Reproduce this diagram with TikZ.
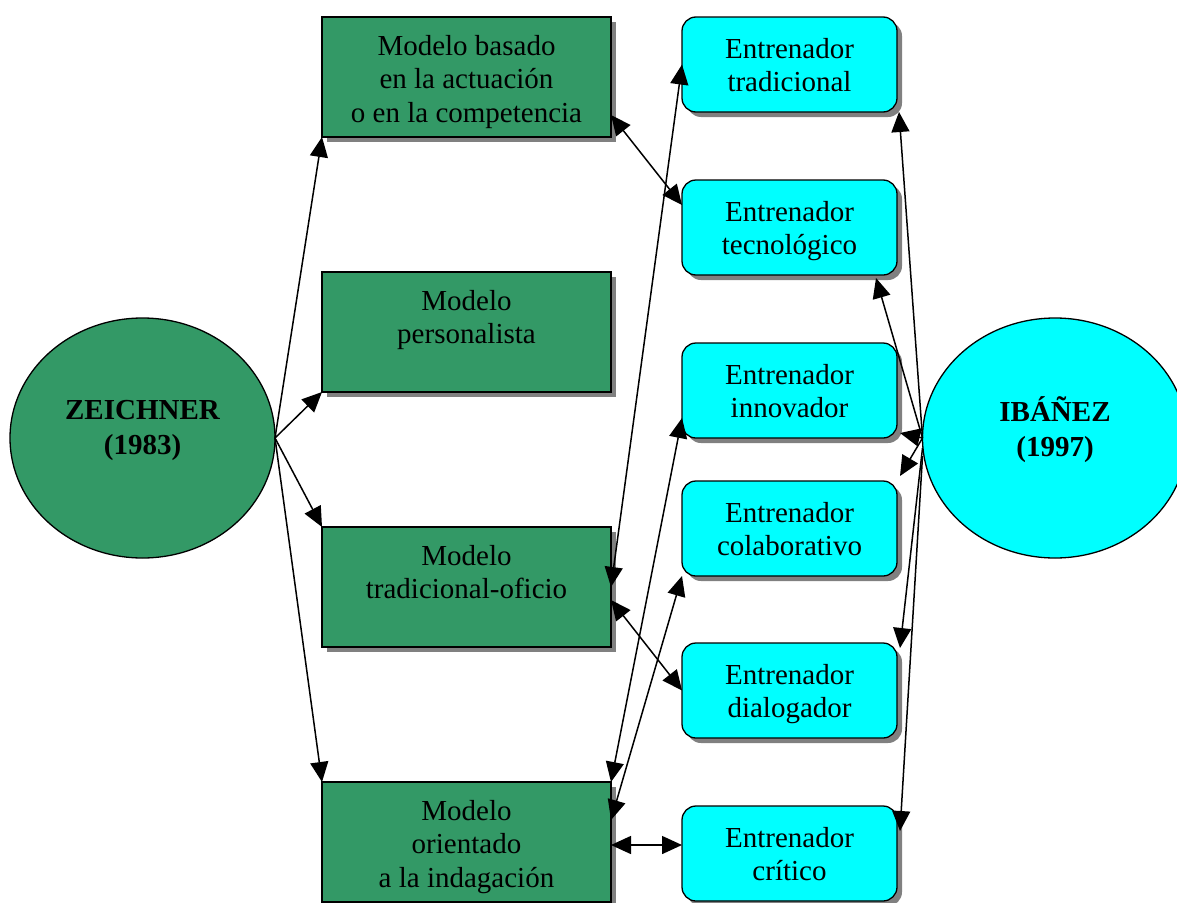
\documentclass[tikz,border=0pt]{standalone}
\usepackage{fontspec}
\setmainfont{Liberation Serif}
\usetikzlibrary{arrows.meta,shapes.geometric,shadows,calc}
\definecolor{zgreen}{RGB}{51,153,102}
\definecolor{icyan}{RGB}{0,255,255}
\definecolor{shade}{RGB}{128,128,128}
% text blocks with a fixed top margin inside the boxes
\newcommand\modeltext[1]{\parbox[t][120pt][t]{289pt}{\centering\rule{0pt}{38pt}#1}}
\newcommand\coachtext[1]{\parbox[t][95pt][t]{215pt}{\centering\rule{0pt}{41pt}#1}}
\begin{document}
\begin{tikzpicture}[x=1pt,y=-1pt,
  every node/.style={inner sep=0pt,outer sep=0pt},
  txt/.style={font=\fontsize{29}{33.5}\selectfont},
  boxshadow/.style={drop shadow={shadow xshift=5pt,shadow yshift=-5pt,fill=shade,opacity=1}},
  modelbox/.style={rectangle,draw=black,line width=1.3pt,fill=zgreen,boxshadow,txt},
  coachbox/.style={rectangle,rounded corners=14pt,draw=black,line width=1.3pt,fill=icyan,boxshadow,txt},
  author/.style={ellipse,draw=black,line width=1.3pt,minimum width=265pt,minimum height=240pt},
  authortext/.style={font=\fontsize{29}{35}\selectfont\bfseries,align=center},
  link/.style={line width=1.5pt,-{Triangle[length=20pt,width=18pt]}},
  both/.style={line width=1.5pt,{Triangle[length=20pt,width=18pt]}-{Triangle[length=20pt,width=18pt]}},
]
\useasboundingbox (0,0) rectangle (1177,902);

% authors
\node[author,fill=zgreen] (zeich) at (142.5,438) {};
\node[authortext] (zeichtxt) at (142.5,430) {ZEICHNER\\(1983)};
\node[author,fill=icyan] (ib) at (1055,438) {};
\node[authortext] (ibtxt) at (1055,430) {IBÁÑEZ\\(1997)};

% teacher education models
\node[modelbox] (m1) at (466.5,77)  {\modeltext{Modelo basado\\en la actuación\\o en la competencia}};
\node[modelbox] (m2) at (466.5,332) {\modeltext{Modelo\\personalista}};
\node[modelbox] (m3) at (466.5,587) {\modeltext{Modelo\\tradicional-oficio}};
\node[modelbox] (m4) at (466.5,842) {\modeltext{Modelo\\orientado\\a la indagación}};

% coach profiles
\node[coachbox] (e1) at (789.5,64.5)  {\coachtext{Entrenador\\tradicional}};
\node[coachbox] (e2) at (789.5,227.5) {\coachtext{Entrenador\\tecnológico}};
\node[coachbox] (e3) at (789.5,390.5) {\coachtext{Entrenador\\innovador}};
\node[coachbox] (e4) at (789.5,528.5) {\coachtext{Entrenador\\colaborativo}};
\node[coachbox] (e5) at (789.5,690.5) {\coachtext{Entrenador\\dialogador}};
\node[coachbox] (e6) at (789.5,853.5) {\coachtext{Entrenador\\crítico}};

% Zeichner -> models
\draw[link] (zeich.east) -- (m1.south west);
\draw[link] (zeich.east) -- (m2.south west);
\draw[link] (zeich.east) -- (m3.north west);
\draw[link] (zeich.east) -- (m4.north west);

% models <-> coach profiles
\draw[both] ($(m1.south east)+(0,-22)$) -- ($(e2.north west)+(0,25)$);
\draw[both] (m3.east) -- (e1.west);
\draw[both] ($(m3.east)+(0,13)$) -- (e5.west);
\draw[both] (m4.north east) -- ($(e3.south west)+(0,-20)$);
\draw[both] ($(m4.north east)+(0,38)$) -- (e4.south west);
\draw[both] ($(m4.north east)+(0,63)$) -- ($(e6.west)+(0,-8.5)$);

% Ibanez -> coach profiles
\draw[link] (ib.west) -- ($(e1.south east)+(2,0)$);
\draw[link] (ib.west) -- ($(e2.south east)+(-21,3)$);
\draw[link] (ib.west) -- ($(e3.south east)+(3,-5)$);
\draw[link] (ib.west) -- ($(e4.north east)+(3,-5)$);
\draw[link] ($(ib.west)+(0,10)$) -- ($(e5.north east)+(3,5)$);
\draw[link] ($(ib.west)+(0,18)$) -- ($(e6.north east)+(3,25)$);
\end{tikzpicture}
\end{document}
